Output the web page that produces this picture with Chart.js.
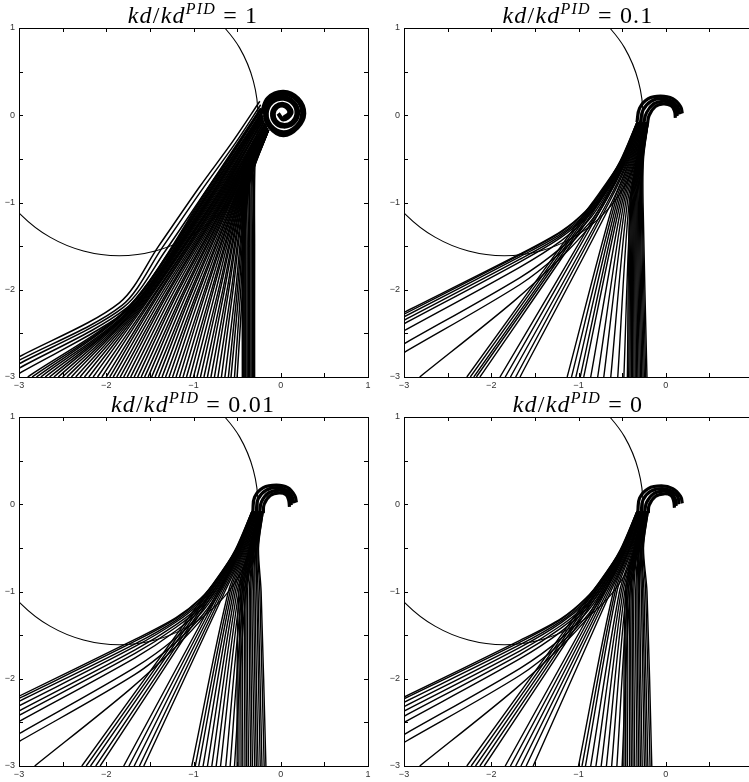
<!DOCTYPE html>
<html>
<head>
<meta charset="utf-8">
<script src="https://cdn.jsdelivr.net/npm/chart.js@4.4.0/dist/chart.umd.min.js"></script>
<style>
html, body { margin: 0; padding: 0; overflow: hidden; background: #fff; width: 749px; height: 782px; }
canvas { position: absolute; }
.title { position: absolute; transform: translateX(-50%); white-space: nowrap; letter-spacing: 1.2px;
  font-family: "Liberation Serif", "DejaVu Serif", serif; font-size: 24px; line-height: 24px; color: #000; }
.title sup { font-size: 16px; position: relative; top: -9px; vertical-align: baseline; }
</style>
</head>
<body>
<canvas id="c0" width="374" height="392" style="left:0px;top:0px"></canvas>
<canvas id="c1" width="374" height="392" style="left:385px;top:0px"></canvas>
<canvas id="c2" width="374" height="392" style="left:0px;top:389px"></canvas>
<canvas id="c3" width="374" height="392" style="left:385px;top:389px"></canvas>
<div class="title" id="t0" style="left:193px;top:3px"></div>
<div class="title" id="t1" style="left:578px;top:3px"></div>
<div class="title" id="t2" style="left:193px;top:392px"></div>
<div class="title" id="t3" style="left:578px;top:392px"></div>
<script>
// axis ticks (marks every 0.5, labels on integers)
const tickMarks = [-3, -2.5, -2, -1.5, -1, -0.5, 0, 0.5, 1];
const tickLabels = [-3, -2, -1, 0, 1];
const ratios = ['1', '0.1', '0.01', '0'];

// constraint circle, same in all four panels
const circle = [[-3.227,-0.815],[-2.974,-1.144],[-2.645,-1.397],[-2.261,-1.556],[-1.85,-1.61],
  [-1.439,-1.556],[-1.055,-1.397],[-0.726,-1.144],[-0.473,-0.815],[-0.314,-0.432],[-0.26,-0.02],
  [-0.314,0.392],[-0.473,0.775],[-0.726,1.104]];

// ---- panel 1 : kd/kd^PID = 1 ----
const p1Left = [
  [[-3,-2.77],[-1.85,-2.15],[-1.4,-1.5],[-0.93,-0.82],[-0.55,-0.3],[-0.24,0.16]],
  [[-3,-2.81],[-1.82,-2.18],[-1.36,-1.52],[-0.9,-0.85],[-0.52,-0.32],[-0.23,0.12]],
  [[-3,-2.85],[-1.8,-2.2],[-1.32,-1.55],[-0.86,-0.87],[-0.5,-0.35],[-0.23,0.08]],
  [[-3,-2.9],[-1.78,-2.22],[-1.28,-1.57],[-0.83,-0.9],[-0.48,-0.37],[-0.22,0.04]],
  [[-3,-2.96],[-1.76,-2.24],[-1.24,-1.6],[-0.8,-0.92],[-0.46,-0.4],[-0.21,0.0]]
];
const p1BottomX = [-2.9,-2.85,-2.8,-2.75,-2.7,-2.65,-2.6,-2.55,-2.5,-2.45,-2.4,-2.35,-2.3,-2.25,-2.2,
  -2.15,-2.1,-2.05,-2.0,-1.96,-1.92,-1.88,-1.84,-1.8,-1.76,-1.72,-1.68,-1.64,-1.6,-1.56,-1.52,-1.48,
  -1.44,-1.4,-1.36,-1.32,-1.28,-1.24,-1.2,-1.16,-1.12,-1.08,-1.04,-1.0,-0.96,-0.92,-0.88,-0.84,-0.8,
  -0.76,-0.72,-0.68,-0.64,-0.6,-0.57,-0.53,-0.5];
const p1BottomMid = [[-1.75,-2.2],[-1.74,-2.2],[-1.73,-2.2],[-1.71,-2.2],[-1.7,-2.2],[-1.68,-2.19],
  [-1.67,-2.18],[-1.65,-2.17],[-1.63,-2.16],[-1.61,-2.15],[-1.6,-2.14],[-1.58,-2.13],[-1.56,-2.12],
  [-1.54,-2.11],[-1.52,-2.1],[-1.5,-2.09],[-1.47,-2.08],[-1.45,-2.07],[-1.42,-2.06],[-1.4,-2.055],
  [-1.37,-2.05],[-1.34,-2.045],[-1.31,-2.04],[-1.29,-2.035],[-1.26,-2.03],[-1.23,-2.03],[-1.2,-2.03],
  [-1.18,-2.03],[-1.15,-2.03],[-1.12,-2.03],[-1.1,-2.03],[-1.07,-2.03],[-1.04,-2.03],[-1.02,-2.03],
  [-0.99,-2.03],[-0.96,-2.03],[-0.94,-2.03],[-0.91,-2.03],[-0.88,-2.03],[-0.86,-2.03],[-0.83,-2.03],
  [-0.8,-2.03],[-0.78,-2.03],[-0.75,-2.03],[-0.72,-2.03],[-0.7,-2.03],[-0.67,-2.03],[-0.65,-2.03],
  [-0.62,-2.03],[-0.6,-2.03],[-0.57,-2.03],[-0.55,-2.03],[-0.52,-2.03],[-0.5,-2.03],[-0.48,-2.03],
  [-0.46,-2.03],[-0.44,-2.03]];
const p1BottomJoin = [[-0.78,-0.75],[-0.77,-0.755],[-0.76,-0.76],[-0.75,-0.765],[-0.74,-0.77],
  [-0.73,-0.775],[-0.72,-0.78],[-0.71,-0.78],[-0.7,-0.78],[-0.69,-0.785],[-0.68,-0.79],[-0.67,-0.795],
  [-0.66,-0.8],[-0.65,-0.8],[-0.64,-0.8],[-0.63,-0.8],[-0.62,-0.8],[-0.61,-0.8],[-0.6,-0.8],[-0.59,-0.8],
  [-0.58,-0.8],[-0.57,-0.8],[-0.56,-0.8],[-0.555,-0.8],[-0.55,-0.8],[-0.54,-0.8],[-0.53,-0.8],
  [-0.525,-0.8],[-0.52,-0.8],[-0.51,-0.8],[-0.5,-0.8],[-0.495,-0.8],[-0.49,-0.8],[-0.48,-0.8],
  [-0.47,-0.8],[-0.465,-0.8],[-0.46,-0.8],[-0.455,-0.8],[-0.45,-0.8],[-0.445,-0.8],[-0.44,-0.8],
  [-0.435,-0.8],[-0.43,-0.8],[-0.425,-0.8],[-0.42,-0.8],[-0.415,-0.8],[-0.41,-0.8],[-0.405,-0.8],
  [-0.4,-0.8],[-0.395,-0.8],[-0.39,-0.8],[-0.385,-0.8],[-0.38,-0.8],[-0.375,-0.8],[-0.37,-0.8],
  [-0.365,-0.8],[-0.36,-0.8]];
const p1BottomEnd = [[-0.23,0.08],[-0.23,0.06],[-0.23,0.05],[-0.22,0.03],[-0.22,0.02],[-0.22,0.0],
  [-0.22,-0.01],[-0.21,0.02],[-0.21,0.04],[-0.21,-0.01],[-0.21,-0.03],[-0.2,-0.01],[-0.2,0.0],
  [-0.2,-0.04],[-0.2,-0.06],[-0.2,-0.05],[-0.2,-0.03],[-0.19,-0.07],[-0.18,-0.1],[-0.19,-0.08],
  [-0.19,-0.06],[-0.18,-0.09],[-0.17,-0.12],[-0.18,-0.1],[-0.18,-0.09],[-0.17,-0.11],[-0.17,-0.12],
  [-0.17,-0.11],[-0.17,-0.1],[-0.16,-0.13],[-0.15,-0.15],[-0.16,-0.14],[-0.16,-0.12],[-0.15,-0.15],
  [-0.15,-0.16],[-0.15,-0.15],[-0.14,-0.17],[-0.15,-0.16],[-0.15,-0.15],[-0.14,-0.17],[-0.14,-0.17],
  [-0.15,-0.16],[-0.15,-0.16],[-0.14,-0.17],[-0.14,-0.17],[-0.14,-0.17],[-0.14,-0.17],[-0.14,-0.17],
  [-0.14,-0.17],[-0.14,-0.17],[-0.14,-0.17],[-0.14,-0.17],[-0.14,-0.17],[-0.14,-0.17],[-0.14,-0.17],
  [-0.14,-0.17],[-0.14,-0.17]];
const p1StripX = [-0.44,-0.43,-0.42,-0.41,-0.4,-0.385,-0.37,-0.355,-0.34,-0.325,-0.31,-0.3];
const p1StripTop = [-0.43,-0.42,-0.41,-0.4,-0.39,-0.375,-0.36,-0.345,-0.33,-0.32,-0.305,-0.295];
const p1StripNeck = [[-0.25,-0.29],[-0.15,-0.17]];
// the tight spiral around the origin, outer and inner winding
const p1Spiral = [
  [[-0.22,0.02],[-0.147,0.197],[0.03,0.27],[0.2,0.19],[0.27,0.02],[0.193,-0.143],
   [0.03,-0.23],[-0.126,-0.136],[-0.18,0.02],[-0.114,0.164],[0.03,0.21],[0.155,0.145],[0.2,0.02],
   [0.143,-0.093],[0.03,-0.13],[-0.069,-0.079],[-0.1,0.02],[-0.055,0.105],[0.03,0.13],[0.1,0.09],
   [0.12,0.02],[0.03,-0.05],[-0.03,0.02]],
  [[-0.2,0.02],[-0.131,0.181],[0.03,0.246],[0.186,0.176],[0.245,0.02],[0.178,-0.128],
   [0.03,-0.195],[-0.111,-0.121],[-0.16,0.02],[-0.099,0.149],[0.03,0.19],[0.143,0.133],[0.18,0.02],
   [0.129,-0.079],[0.03,-0.11],[-0.055,-0.065],[-0.08,0.02],[-0.041,0.091],[0.03,0.11],[0.083,0.073],
   [0.095,0.02],[0.03,-0.03]]
];

// panels 2-4: bottom trajectories sampled at these heights
const levelsY = [-3, -1, -0.5, -0.08];

// ---- panel 2 : kd/kd^PID = 0.1 ----
const p2Left = [
  [[-3,-2.26],[-1.67,-1.59],[-1.2,-1.33],[-0.92,-1.1],[-0.72,-0.85],[-0.52,-0.52],[-0.33,-0.08]],
  [[-3,-2.28],[-1.67,-1.6],[-1.2,-1.34],[-0.92,-1.11],[-0.72,-0.86],[-0.52,-0.53],[-0.33,-0.08]],
  [[-3,-2.31],[-1.67,-1.62],[-1.2,-1.36],[-0.91,-1.12],[-0.71,-0.87],[-0.51,-0.53],[-0.32,-0.08]],
  [[-3,-2.35],[-1.67,-1.65],[-1.2,-1.38],[-0.91,-1.14],[-0.71,-0.88],[-0.51,-0.54],[-0.32,-0.08]],
  [[-3,-2.39],[-1.67,-1.68],[-1.2,-1.4],[-0.9,-1.15],[-0.7,-0.89],[-0.5,-0.54],[-0.32,-0.08]],
  [[-3,-2.47],[-1.67,-1.74],[-1.2,-1.44],[-0.9,-1.17],[-0.7,-0.9],[-0.5,-0.55],[-0.31,-0.08]],
  [[-3,-2.62],[-1.67,-1.86],[-1.2,-1.52],[-0.89,-1.21],[-0.69,-0.92],[-0.49,-0.55],[-0.31,-0.08]],
  [[-3,-2.72],[-1.67,-1.94],[-1.2,-1.57],[-0.88,-1.24],[-0.68,-0.94],[-0.49,-0.56],[-0.31,-0.08]],
  [[-2.82,-3],[-1.74,-2.13],[-1.2,-1.63],[-0.87,-1.27],[-0.67,-0.95],[-0.48,-0.56],[-0.3,-0.08]]
];
const p2X0 = [-2.28,-2.24,-2.2,-2.17,-2.13,-1.9,-1.84,-1.78,-1.72,-1.67,-1.13,-1.08,-1.03,-0.98,-0.94,
  -0.86,-0.78,-0.71,-0.63,-0.55,-0.48,
  -0.44,-0.425,-0.41,-0.395,-0.38,-0.365,-0.35,-0.335,-0.32,-0.305,-0.29,-0.275,-0.26,-0.245,-0.23,-0.215];
const p2X1 = [-0.84,-0.82,-0.8,-0.78,-0.76,-0.72,-0.7,-0.67,-0.65,-0.62,-0.6,-0.58,-0.56,-0.54,-0.52,
  -0.5,-0.48,-0.46,-0.44,-0.42,-0.4,
  -0.41,-0.4,-0.39,-0.38,-0.37,-0.36,-0.35,-0.34,-0.33,-0.32,-0.31,-0.3,-0.29,-0.28,-0.27,-0.26];
const p2X2 = [-0.5,-0.49,-0.48,-0.47,-0.46,-0.45,-0.44,-0.43,-0.42,-0.41,-0.4,-0.39,-0.38,-0.37,-0.36,
  -0.35,-0.34,-0.33,-0.32,-0.31,-0.3,
  -0.33,-0.325,-0.32,-0.315,-0.31,-0.305,-0.3,-0.295,-0.29,-0.285,-0.28,-0.275,-0.27,-0.265,-0.26,-0.255];
const p2X3 = [-0.33,-0.32,-0.32,-0.31,-0.31,-0.3,-0.3,-0.29,-0.29,-0.28,-0.28,-0.27,-0.27,-0.26,-0.26,
  -0.25,-0.25,-0.24,-0.24,-0.23,-0.23,
  -0.23,-0.23,-0.225,-0.225,-0.22,-0.22,-0.215,-0.215,-0.21,-0.21,-0.205,-0.205,-0.2,-0.2,-0.2,-0.2];
const p2Curl = [
  [[-0.33,-0.08],[-0.3,0.08],[-0.2,0.19],[-0.06,0.22],[0.08,0.19],[0.17,0.1],[0.19,0.02]],
  [[-0.29,-0.08],[-0.26,0.06],[-0.17,0.16],[-0.05,0.19],[0.07,0.16],[0.14,0.09],[0.16,0.01]],
  [[-0.25,-0.08],[-0.22,0.03],[-0.14,0.13],[-0.04,0.16],[0.06,0.14],[0.12,0.07],[0.13,-0.01]],
  [[-0.21,-0.1],[-0.19,0.0],[-0.12,0.1],[-0.03,0.13],[0.06,0.11],[0.1,0.05],[0.11,-0.03]]
];

// ---- panel 3 : kd/kd^PID = 0.01 ----
const p3Left = [
  [[-3,-2.2],[-1.67,-1.55],[-1.2,-1.3],[-0.92,-1.08],[-0.72,-0.84],[-0.52,-0.52],[-0.33,-0.08]],
  [[-3,-2.225],[-1.67,-1.57],[-1.2,-1.31],[-0.92,-1.09],[-0.72,-0.85],[-0.52,-0.53],[-0.33,-0.08]],
  [[-3,-2.26],[-1.67,-1.6],[-1.2,-1.33],[-0.91,-1.1],[-0.71,-0.86],[-0.51,-0.53],[-0.32,-0.08]],
  [[-3,-2.31],[-1.67,-1.63],[-1.2,-1.35],[-0.91,-1.12],[-0.71,-0.87],[-0.51,-0.54],[-0.32,-0.08]],
  [[-3,-2.37],[-1.67,-1.67],[-1.2,-1.38],[-0.9,-1.14],[-0.7,-0.88],[-0.5,-0.54],[-0.32,-0.08]],
  [[-3,-2.42],[-1.67,-1.71],[-1.2,-1.41],[-0.9,-1.16],[-0.7,-0.89],[-0.5,-0.55],[-0.31,-0.08]],
  [[-3,-2.49],[-1.67,-1.76],[-1.2,-1.45],[-0.89,-1.18],[-0.69,-0.91],[-0.49,-0.55],[-0.31,-0.08]],
  [[-3,-2.63],[-1.67,-1.87],[-1.2,-1.53],[-0.89,-1.22],[-0.69,-0.93],[-0.49,-0.56],[-0.31,-0.08]],
  [[-3,-2.72],[-1.67,-1.95],[-1.2,-1.58],[-0.88,-1.25],[-0.68,-0.94],[-0.48,-0.56],[-0.3,-0.08]],
  [[-2.82,-3],[-1.74,-2.13],[-1.2,-1.63],[-0.87,-1.27],[-0.67,-0.95],[-0.48,-0.56],[-0.3,-0.08]]
];
const p3X0 = [-2.28,-2.23,-2.18,-2.12,-2.07,-1.8,-1.74,-1.68,-1.62,-1.57,-1.02,-0.98,-0.94,
  -0.89,-0.84,-0.79,-0.74,-0.69,-0.63,-0.58,-0.53,
  -0.5,-0.48,-0.455,-0.435,-0.41,-0.39,-0.37,-0.345,-0.325,-0.3,-0.28,-0.26,-0.235,-0.215,-0.19,-0.17];
const p3X1 = [-0.84,-0.82,-0.8,-0.78,-0.76,-0.72,-0.7,-0.68,-0.66,-0.64,-0.6,-0.58,-0.56,
  -0.54,-0.52,-0.5,-0.48,-0.46,-0.44,-0.42,-0.4,
  -0.48,-0.46,-0.445,-0.43,-0.41,-0.395,-0.38,-0.36,-0.345,-0.33,-0.31,-0.295,-0.275,-0.26,-0.24,-0.225];
const p3X2 = [-0.5,-0.49,-0.48,-0.47,-0.46,-0.45,-0.44,-0.43,-0.42,-0.41,-0.4,-0.39,-0.38,
  -0.37,-0.36,-0.35,-0.34,-0.33,-0.32,-0.31,-0.3,
  -0.36,-0.355,-0.345,-0.34,-0.33,-0.325,-0.32,-0.31,-0.305,-0.3,-0.29,-0.285,-0.275,-0.27,-0.26,-0.255];
const p3X3 = [-0.33,-0.32,-0.32,-0.31,-0.31,-0.3,-0.3,-0.29,-0.29,-0.28,-0.28,-0.27,-0.27,
  -0.26,-0.26,-0.25,-0.25,-0.24,-0.24,-0.23,-0.23,
  -0.24,-0.235,-0.235,-0.23,-0.23,-0.225,-0.225,-0.22,-0.22,-0.215,-0.215,-0.21,-0.21,-0.205,-0.2,-0.2];
const p3Curl = [
  [[-0.32,-0.08],[-0.3,0.08],[-0.2,0.19],[-0.05,0.22],[0.08,0.19],[0.16,0.1],[0.18,0.02]],
  [[-0.28,-0.08],[-0.26,0.06],[-0.17,0.16],[-0.04,0.19],[0.07,0.16],[0.13,0.09],[0.15,0.01]],
  [[-0.24,-0.08],[-0.22,0.03],[-0.14,0.13],[-0.03,0.16],[0.06,0.14],[0.11,0.07],[0.12,-0.01]],
  [[-0.2,-0.1],[-0.19,0.0],[-0.12,0.1],[-0.02,0.13],[0.06,0.11],[0.09,0.05],[0.1,-0.03]]
];

// ---- panel 4 : kd/kd^PID = 0 ----
const p4Left = [
  [[-3,-2.21],[-1.67,-1.56],[-1.2,-1.31],[-0.92,-1.08],[-0.72,-0.84],[-0.52,-0.52],[-0.33,-0.08]],
  [[-3,-2.23],[-1.67,-1.58],[-1.2,-1.32],[-0.92,-1.09],[-0.72,-0.85],[-0.52,-0.53],[-0.33,-0.08]],
  [[-3,-2.27],[-1.67,-1.61],[-1.2,-1.34],[-0.91,-1.1],[-0.71,-0.86],[-0.51,-0.53],[-0.32,-0.08]],
  [[-3,-2.32],[-1.67,-1.64],[-1.2,-1.36],[-0.91,-1.12],[-0.71,-0.87],[-0.51,-0.54],[-0.32,-0.08]],
  [[-3,-2.37],[-1.67,-1.68],[-1.2,-1.39],[-0.9,-1.14],[-0.7,-0.88],[-0.5,-0.54],[-0.32,-0.08]],
  [[-3,-2.43],[-1.67,-1.72],[-1.2,-1.42],[-0.9,-1.16],[-0.7,-0.89],[-0.5,-0.55],[-0.31,-0.08]],
  [[-3,-2.5],[-1.67,-1.77],[-1.2,-1.46],[-0.89,-1.18],[-0.69,-0.91],[-0.49,-0.55],[-0.31,-0.08]],
  [[-3,-2.64],[-1.67,-1.88],[-1.2,-1.54],[-0.89,-1.22],[-0.69,-0.93],[-0.49,-0.56],[-0.31,-0.08]],
  [[-3,-2.73],[-1.67,-1.96],[-1.2,-1.59],[-0.88,-1.25],[-0.68,-0.94],[-0.48,-0.56],[-0.3,-0.08]],
  [[-2.82,-3],[-1.74,-2.13],[-1.2,-1.63],[-0.87,-1.27],[-0.67,-0.95],[-0.48,-0.56],[-0.3,-0.08]]
];
const p4X0 = [-2.28,-2.23,-2.18,-2.13,-2.08,-1.84,-1.78,-1.72,-1.66,-1.6,-1.52,-1.0,-0.96,-0.92,
  -0.86,-0.8,-0.74,-0.68,-0.62,-0.56,-0.5,
  -0.48,-0.46,-0.44,-0.415,-0.395,-0.375,-0.355,-0.33,-0.31,-0.29,-0.27,-0.245,-0.225,-0.205,-0.18,-0.16];
const p4X1 = [-0.84,-0.82,-0.8,-0.78,-0.76,-0.73,-0.71,-0.69,-0.67,-0.65,-0.63,-0.6,-0.58,-0.56,
  -0.53,-0.51,-0.49,-0.47,-0.45,-0.43,-0.41,
  -0.46,-0.445,-0.43,-0.41,-0.395,-0.38,-0.365,-0.345,-0.33,-0.315,-0.3,-0.28,-0.265,-0.25,-0.23,-0.215];
const p4X2 = [-0.5,-0.49,-0.48,-0.47,-0.46,-0.45,-0.44,-0.43,-0.42,-0.41,-0.41,-0.4,-0.39,-0.38,
  -0.37,-0.36,-0.35,-0.34,-0.33,-0.32,-0.31,
  -0.36,-0.355,-0.345,-0.34,-0.33,-0.325,-0.32,-0.31,-0.305,-0.3,-0.29,-0.285,-0.275,-0.27,-0.26,-0.255];
const p4X3 = [-0.33,-0.32,-0.32,-0.31,-0.31,-0.3,-0.3,-0.29,-0.29,-0.28,-0.28,-0.27,-0.27,-0.26,
  -0.26,-0.25,-0.25,-0.24,-0.24,-0.23,-0.23,
  -0.24,-0.235,-0.235,-0.23,-0.23,-0.225,-0.225,-0.22,-0.22,-0.215,-0.215,-0.21,-0.21,-0.205,-0.2,-0.2];
const p4Curl = [
  [[-0.32,-0.08],[-0.3,0.07],[-0.2,0.18],[-0.05,0.21],[0.08,0.18],[0.17,0.09],[0.19,0.01]],
  [[-0.28,-0.08],[-0.26,0.05],[-0.17,0.15],[-0.04,0.18],[0.07,0.15],[0.14,0.08],[0.15,0.0]],
  [[-0.24,-0.08],[-0.22,0.02],[-0.14,0.12],[-0.03,0.15],[0.06,0.13],[0.11,0.06],[0.12,-0.02]],
  [[-0.2,-0.1],[-0.19,-0.01],[-0.12,0.09],[-0.02,0.12],[0.06,0.1],[0.09,0.04],[0.1,-0.04]]
];

function pts(list) { return list.map(p => ({x: p[0], y: p[1]})); }

function line(list, w, t) {
  return { data: pts(list), showLine: true, borderColor: '#000', borderWidth: w,
    pointRadius: 0, tension: t, fill: false };
}

function fanPaths(left, x0, x1, x2, x3) {
  const out = left.slice();
  x0.forEach((x, i) => out.push([[x, levelsY[0]], [x1[i], levelsY[1]], [x2[i], levelsY[2]], [x3[i], levelsY[3]]]));
  return out;
}

function panel1Paths() {
  const out = p1Left.slice();
  p1BottomX.forEach((x0, i) => out.push([[x0, -3], p1BottomMid[i], p1BottomJoin[i], p1BottomEnd[i]]));
  p1StripX.forEach((x0, i) => out.push([[x0, -3], [x0, -1.5], [p1StripTop[i], -0.55]].concat(p1StripNeck)));
  return out;
}

const fmt = v => (v < 0 ? '\u2212' : '') + Math.abs(v);

const frameTicks = {
  id: 'frameTicks',
  afterDatasetsDraw(chart) {
    const {ctx, chartArea: a, scales: {x, y}} = chart;
    ctx.save();
    ctx.strokeStyle = '#000';
    ctx.lineWidth = 1;
    ctx.beginPath();
    tickMarks.forEach(v => {
      const px = Math.round(x.getPixelForValue(v)) + 0.5;
      ctx.moveTo(px, a.bottom); ctx.lineTo(px, a.bottom - 4);
      ctx.moveTo(px, a.top); ctx.lineTo(px, a.top + 4);
      const py = Math.round(y.getPixelForValue(v)) + 0.5;
      ctx.moveTo(a.left, py); ctx.lineTo(a.left + 4, py);
      ctx.moveTo(a.right, py); ctx.lineTo(a.right - 4, py);
    });
    ctx.stroke();
    ctx.strokeRect(Math.round(a.left) + 0.5, Math.round(a.top) + 0.5,
      Math.round(a.right - a.left), Math.round(a.bottom - a.top));
    ctx.restore();
  }
};

function axis(isX) {
  return {
    type: 'linear', min: -3, max: 1,
    grid: { display: false, drawTicks: false },
    border: { display: false },
    ticks: {
      stepSize: 0.5, autoSkip: false, maxRotation: 0,
      padding: isX ? 3 : 4, color: '#333',
      font: { family: 'Liberation Sans', size: 9 },
      callback: v => tickLabels.some(t => Math.abs(t - v) < 1e-6) ? fmt(Math.round(v)) : ''
    },
    afterFit: s => { if (isX) s.height = 15; else s.width = 19; }
  };
}

function makeChart(id, paths, thick, thickW, w) {
  const datasets = [line(circle, 1.1, 0.4)];
  paths.forEach(p => datasets.push(line(p, w, 0.3)));
  thick.forEach(p => datasets.push(line(p, thickW, 0.4)));
  new Chart(document.getElementById(id), {
    type: 'scatter',
    data: { datasets },
    options: {
      responsive: false, animation: false, devicePixelRatio: 1, events: [],
      layout: { padding: { top: 28, right: 6, left: 0, bottom: 0 } },
      plugins: { legend: { display: false }, tooltip: { enabled: false } },
      scales: { x: axis(true), y: axis(false) }
    },
    plugins: [frameTicks]
  });
}

makeChart('c0', panel1Paths(), p1Spiral, 4, 1.5);
makeChart('c1', fanPaths(p2Left, p2X0, p2X1, p2X2, p2X3), p2Curl, 3.2, 1.4);
makeChart('c2', fanPaths(p3Left, p3X0, p3X1, p3X2, p3X3), p3Curl, 3.2, 1.4);
makeChart('c3', fanPaths(p4Left, p4X0, p4X1, p4X2, p4X3), p4Curl, 3.2, 1.4);

ratios.forEach((r, i) => {
  document.getElementById('t' + i).innerHTML = '<i>kd</i>/<i>kd</i><sup><i>PID</i></sup> = ' + r;
});
</script>
</body>
</html>
